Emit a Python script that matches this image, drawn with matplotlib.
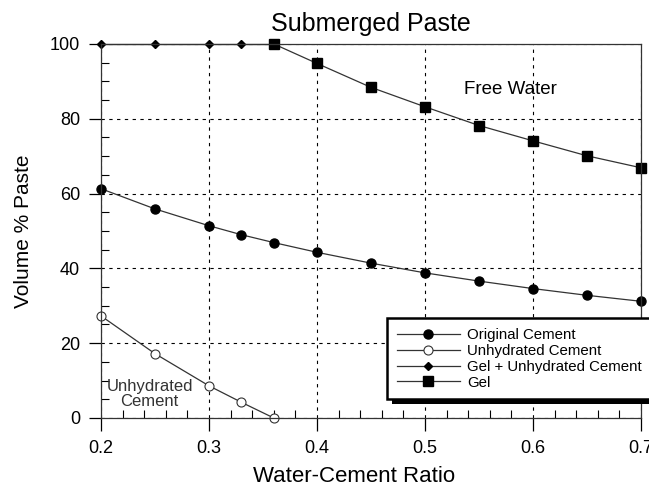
import numpy as np
import matplotlib.pyplot as plt
from matplotlib.patches import Rectangle
from matplotlib.transforms import IdentityTransform
from matplotlib.ticker import MultipleLocator

plt.rcParams['font.family'] = ['Liberation Sans', 'DejaVu Sans']

# values
wc_orig = [0.20, 0.25, 0.30, 0.33, 0.36, 0.40, 0.45, 0.50, 0.55, 0.60, 0.65, 0.70]
orig_cement = [61.3, 55.9, 51.4, 49.0, 46.9, 44.3, 41.4, 38.8, 36.6, 34.6, 32.8, 31.2]

wc_unhyd = [0.20, 0.25, 0.30, 0.33, 0.36]
unhyd_cement = [27.3, 17.2, 8.6, 4.2, 0.0]

wc_gel_unhyd = [0.20, 0.25, 0.30, 0.33, 0.36]
gel_unhyd = [100, 100, 100, 100, 100]

wc_gel = [0.36, 0.40, 0.45, 0.50, 0.55, 0.60, 0.65, 0.70]
gel = [100, 94.8, 88.4, 83.2, 78.2, 74.1, 70.1, 66.9]

xticks = [0.2, 0.3, 0.4, 0.5, 0.6, 0.7]
xticklabels = ['0.2', '0.3', '0.4', '0.5', '0.6', '0.7']

fig = plt.figure(figsize=(6.49, 4.87), dpi=100)
ax = fig.add_axes([0.1556, 0.1417, 0.8321, 0.768])

line_kw = dict(color='#333333', linewidth=0.9, clip_on=False)
ax.plot(wc_orig, orig_cement, marker='o', markersize=6.5, markerfacecolor='black',
        markeredgecolor='black', label='Original Cement', **line_kw)
ax.plot(wc_unhyd, unhyd_cement, marker='o', markersize=6.5, markerfacecolor='white',
        markeredgecolor='#333333', markeredgewidth=0.8, label='Unhydrated Cement', **line_kw)
ax.plot(wc_gel_unhyd, gel_unhyd, marker='D', markersize=4, markerfacecolor='black',
        markeredgecolor='black', label='Gel + Unhydrated Cement', **line_kw)
ax.plot(wc_gel, gel, marker='s', markersize=7, markerfacecolor='black',
        markeredgecolor='black', label='Gel', **line_kw)

ax.set_xlim(0.2, 0.7)
ax.set_ylim(0, 100)
ax.xaxis.set_minor_locator(MultipleLocator(0.02))
ax.yaxis.set_major_locator(MultipleLocator(20))
ax.yaxis.set_minor_locator(MultipleLocator(5))
ax.set_xticks(xticks)
ax.set_xticklabels(xticklabels)
ax.tick_params(which='major', direction='out', length=9, width=0.9, labelsize=13)
ax.tick_params(axis='x', which='major', pad=7)
ax.tick_params(axis='y', which='major', pad=6)
ax.tick_params(which='minor', direction='in', length=6, width=0.8)
ax.grid(which='major', color='black', linestyle=(0, (3, 4)), linewidth=0.8)
for s in ax.spines.values():
    s.set_linewidth(0.9)
    s.set_color('#333333')

ax.set_title('Submerged Paste', fontsize=18, pad=9)
ax.set_xlabel('Water-Cement Ratio', fontsize=16)
ax.xaxis.set_label_coords(0.469, -0.128)
ax.set_ylabel('Volume % Paste', fontsize=15, labelpad=12)

ax.text(0.579, 87.7, 'Free Water', fontsize=13.5, ha='center', va='center')
ax.text(0.245, 6.4, 'Unhydrated\nCement', fontsize=12, ha='center', va='center',
        color='#333333', linespacing=1.0)

leg = ax.legend(loc='upper left', bbox_to_anchor=(0.53, 0.267), borderaxespad=0,
                fontsize=10.8, handlelength=4.2, handletextpad=0.5, labelspacing=0.13,
                borderpad=0.65, fancybox=False, framealpha=1, edgecolor='black')
leg.get_frame().set_linewidth(1.8)
leg.set_zorder(10)

# solid black drop shadow behind the legend box
fig.canvas.draw()
bb = leg.get_window_extent()
shadow = Rectangle((bb.x0 + 5, bb.y0 - 5), bb.width, bb.height,
                   facecolor='black', edgecolor='none', zorder=9)
shadow.set_transform(IdentityTransform())
shadow.set_clip_on(False)
ax.add_artist(shadow)

fig.savefig('out.png', dpi=100)
